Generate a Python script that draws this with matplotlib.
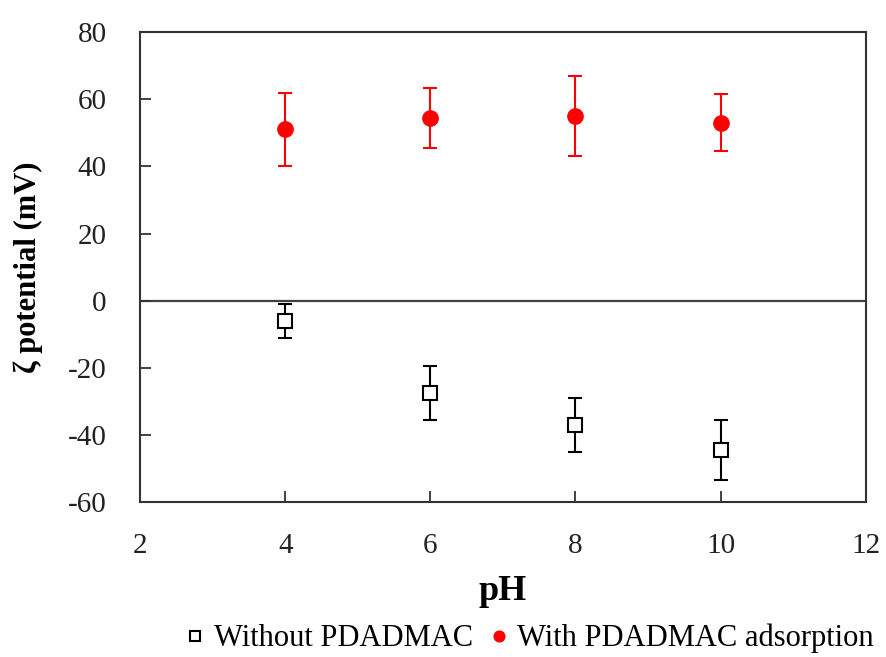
import numpy as np
import matplotlib.pyplot as plt

ph = [4, 6, 8, 10]
zeta_without = [-6, -27.5, -37, -44.5]
err_without = [5, 8, 8, 9]
zeta_with = [51, 54.5, 55, 53]
err_with = [11, 9, 12, 8.5]

plt.rcParams['font.family'] = ['Liberation Serif', 'DejaVu Serif']
plt.rcParams['axes.unicode_minus'] = False

fig = plt.figure(figsize=(8.87, 6.57), dpi=100)
ax = fig.add_axes([0.158, 0.236, 0.818, 0.715])

ax.axhline(0, color='#404040', lw=1.6, zorder=1)

ax.errorbar(ph, zeta_without, yerr=err_without, fmt='s', color='black',
            mfc='white', mec='black', ms=10, mew=1.5, ecolor='black',
            elinewidth=1.5, capsize=5, capthick=1.5, label='Without PDADMAC', zorder=3)
ax.errorbar(ph, zeta_with, yerr=err_with, fmt='o', color='red',
            ms=11, ecolor='red', elinewidth=1.5, capsize=5, capthick=1.5,
            label='With PDADMAC adsorption', zorder=3)

ax.set_xlim(2, 12)
ax.set_ylim(-60, 80)
ax.set_xticks(np.arange(2, 13, 2))
ax.set_yticks(np.arange(-60, 81, 20))
ax.tick_params(direction='in', length=8, width=1.3, labelsize=21, colors='#333333',
               labelcolor='#222222')
ax.tick_params(axis='y', pad=24)
ax.tick_params(axis='x', pad=22)
for s in ax.spines.values():
    s.set_linewidth(1.5)
    s.set_color('#333333')

ax.set_xlabel('pH', fontsize=26, fontweight='bold', labelpad=12)
ax.set_ylabel('ζ potential (mV)', fontsize=22, fontweight='bold', labelpad=18)

handles, labels = ax.get_legend_handles_labels()
handles = [h[0] for h in handles]
fig.legend(handles, labels, loc='center', bbox_to_anchor=(0.594, 0.028), ncol=2,
           frameon=False, fontsize=22, handletextpad=0.1, columnspacing=0.35,
           handlelength=1.0, markerscale=0.7)

fig.savefig('out.png', dpi=100)
